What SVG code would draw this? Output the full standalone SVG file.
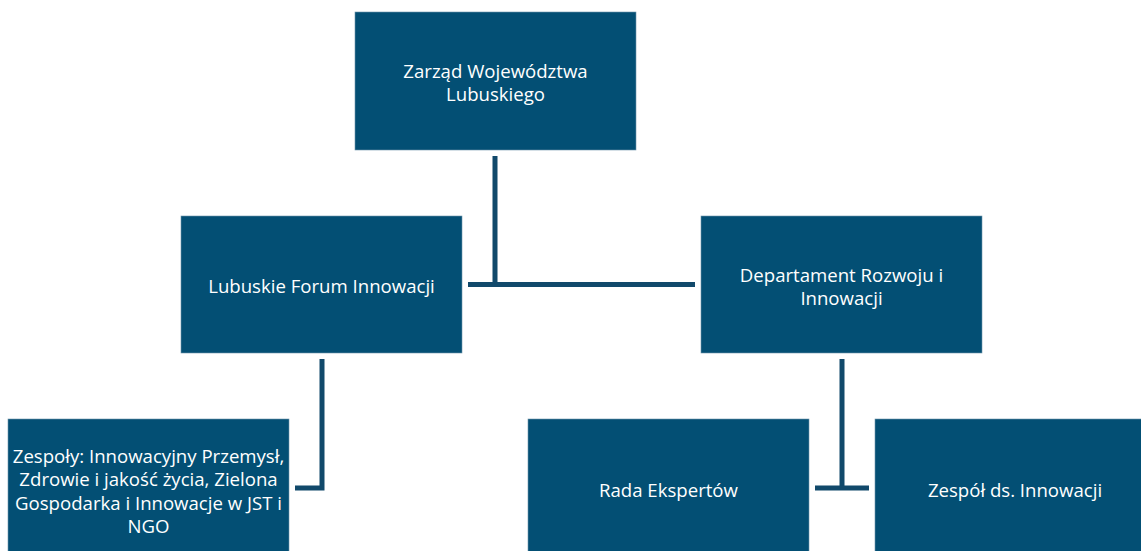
<svg xmlns="http://www.w3.org/2000/svg" width="1141" height="551" viewBox="0 0 1141 551">
<style>
.box{fill:#034f74;stroke:#6f95ab;stroke-width:0.6}
.t{font-family:"Open Sans","Liberation Sans",sans-serif;font-size:18.6px;fill:#ffffff;text-anchor:middle;dominant-baseline:central}
.c{stroke:#11496b;stroke-width:5;fill:none}
</style>
<rect width="1141" height="551" fill="#ffffff"/>
<g id="connectors">
<path class="c" d="M495 156V286"/>
<path class="c" d="M468 284.5H695"/>
<path class="c" d="M322 359V488H295"/>
<path class="c" d="M842 359V488"/>
<path class="c" d="M815 488H869"/>
</g>
<g id="n1"><rect class="box" x="355" y="12" width="281" height="138"/>
<text class="t" x="495.5" y="70">Zarząd Województwa</text><text class="t" x="495.5" y="93">Lubuskiego</text></g>
<g id="n2"><rect class="box" x="181" y="216" width="281" height="137"/>
<text class="t" x="321.5" y="285">Lubuskie Forum Innowacji</text></g>
<g id="n3"><rect class="box" x="701" y="216" width="281" height="137"/>
<text class="t" x="841.5" y="274">Departament Rozwoju i</text><text class="t" x="841.5" y="297">Innowacji</text></g>
<g id="n4"><rect class="box" x="8" y="419" width="281" height="140"/>
<text class="t" x="148.5" y="455">Zespoły: Innowacyjny Przemysł,</text><text class="t" x="148.5" y="478">Zdrowie i jakość życia, Zielona</text><text class="t" x="148.5" y="502">Gospodarka i Innowacje w JST i</text><text class="t" x="148.5" y="525">NGO</text></g>
<g id="n5"><rect class="box" x="528" y="419" width="281" height="140"/>
<text class="t" x="668.5" y="489">Rada Ekspertów</text></g>
<g id="n6"><rect class="box" x="875" y="419" width="281" height="140"/>
<text class="t" x="1015" y="489">Zespół ds. Innowacji</text></g>
</svg>
